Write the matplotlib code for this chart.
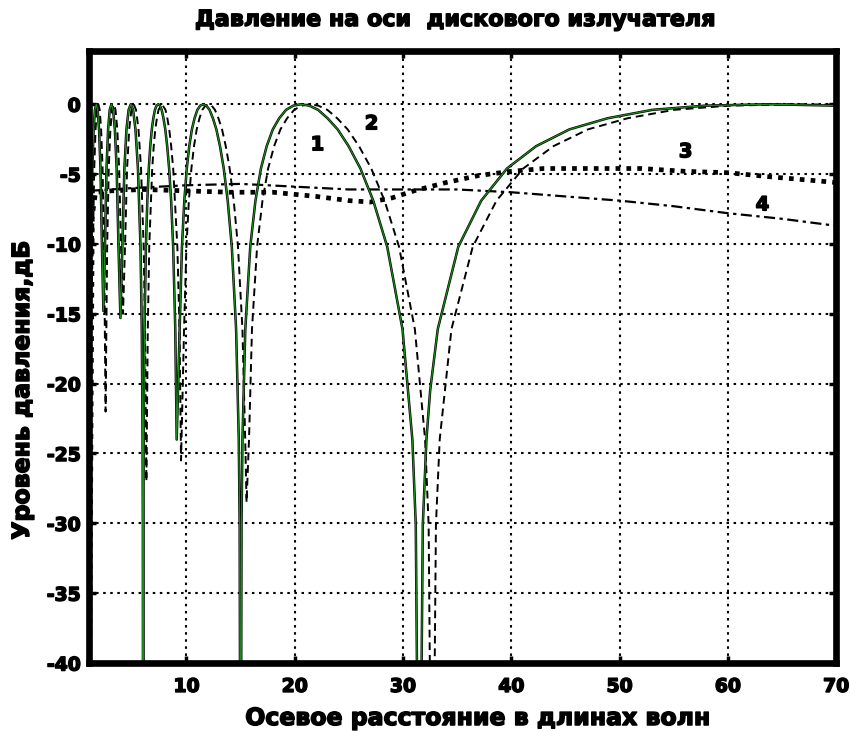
import matplotlib
matplotlib.use("Agg")
import matplotlib.pyplot as plt
import matplotlib.patheffects as pe

# curve 1 (green, exact on-axis pressure)
x1 = [1.0, 1.188, 1.306, 1.426, 1.548, 1.673, 1.800, 1.929, 2.061, 2.196,
      2.33, 2.474, 2.617, 2.764, 2.914, 3.068, 3.226, 3.388, 3.554, 3.725,
      3.90, 4.081, 4.267, 4.459, 4.657, 4.861, 5.073, 5.292, 5.519, 5.755,
      5.876, 5.950, 5.975, 6.0, 6.025, 6.050, 6.126, 6.255, 6.387, 6.521,
      6.658, 6.799, 6.942, 7.089, 7.239, 7.393, 7.550, 7.712, 7.877, 8.047,
      8.221, 8.4, 8.584, 8.773, 8.967, 9.10, 9.372, 9.584, 9.803, 10.029,
      10.261, 10.502, 10.750, 11.008, 11.274, 11.55, 11.836, 12.133, 12.442, 12.763,
      13.097, 13.445, 13.809, 14.188, 14.585, 14.832, 14.915, 15.0, 15.085, 15.172,
      15.435, 15.892, 16.372, 16.878, 17.411, 17.974, 18.569, 19.2, 19.870, 20.583,
      21.344, 22.157, 23.029, 23.965, 24.975, 26.067, 27.251, 28.541, 29.951, 30.863,
      31.178, 31.5, 31.828, 32.163, 32.505, 33.209, 35.106, 37.222, 39.6, 42.292,
      45.364, 48.906, 53.033, 57.907, 63.75, 70.0]
y1 = [-14.2, -10.2, -4.6, -1.8, -0.4, 0.0, -0.4, -1.8, -4.6, -10.2,
      -14.8, -10.2, -4.6, -1.8, -0.4, 0.0, -0.4, -1.8, -4.6, -10.2,
      -15.3, -10.2, -4.6, -1.8, -0.4, 0.0, -0.4, -1.8, -4.6, -10.2,
      -16.1, -24.0, -30.1, -60.0, -30.1, -24.0, -16.1, -10.2, -6.9, -4.6,
      -3.0, -1.8, -1.0, -0.4, -0.1, 0.0, -0.1, -0.4, -1.0, -1.8,
      -3.0, -4.6, -6.9, -10.2, -16.1, -24.0, -16.1, -10.2, -6.9, -4.6,
      -3.0, -1.8, -1.0, -0.4, -0.1, 0.0, -0.1, -0.4, -1.0, -1.8,
      -3.0, -4.6, -6.9, -10.2, -16.1, -24.0, -30.1, -60.0, -30.1, -24.0,
      -16.1, -10.2, -6.9, -4.6, -3.0, -1.8, -1.0, -0.4, -0.1, 0.0,
      -0.1, -0.4, -1.0, -1.8, -3.0, -4.6, -6.9, -10.2, -16.1, -24.0,
      -30.1, -60.0, -30.1, -24.0, -20.5, -16.1, -10.2, -6.9, -4.6, -3.0,
      -1.8, -1.0, -0.4, -0.1, 0.0, -0.1]

# curve 2 (dashed)
x2 = [1.0, 1.126, 1.243, 1.362, 1.482, 1.605, 1.730, 1.858, 1.988, 2.120,
      2.255, 2.393, 2.463, 2.533, 2.605, 2.677, 2.824, 2.975, 3.129, 3.286,
      3.448, 3.614, 3.785, 3.960, 4.14, 4.326, 4.517, 4.714, 4.917, 5.128,
      5.345, 5.571, 5.805, 6.048, 6.173, 6.30, 6.430, 6.563, 6.837, 6.978,
      7.123, 7.271, 7.422, 7.736, 8.065, 8.235, 8.411, 8.590, 8.775, 9.160,
      9.360, 9.50, 9.779, 9.998, 10.224, 10.457, 10.698, 10.946, 11.203, 11.469,
      11.745, 12.03, 12.326, 12.633, 12.953, 13.285, 13.631, 13.991, 14.367, 14.760,
      15.170, 15.426, 15.55, 15.778, 16.051, 16.524, 17.021, 17.544, 18.096, 18.679,
      19.296, 19.95, 20.644, 21.38, 22.172, 23.014, 23.918, 24.888, 25.935, 27.067,
      28.295, 29.632, 31.094, 32.039, 32.366, 32.7, 33.040, 33.388, 34.472, 36.439,
      38.634, 41.1, 43.892, 47.079, 50.752, 55.033, 60.089, 66.15, 70.0]
y2 = [-4.25, -10.2, -13.0, -10.2, -4.6, -1.8, -0.4, 0.0, -0.4, -1.8,
      -4.6, -10.2, -16.1, -22.0, -16.1, -10.2, -4.6, -1.8, -0.4, 0.0,
      -0.4, -1.8, -4.6, -10.2, -15.0, -10.2, -4.6, -1.8, -0.4, 0.0,
      -0.4, -1.8, -4.6, -10.2, -16.1, -27.0, -16.1, -10.2, -4.6, -3.0,
      -1.8, -1.0, -0.4, 0.0, -0.4, -1.0, -1.8, -3.0, -4.6, -10.2,
      -16.1, -25.5, -16.1, -10.2, -6.9, -4.6, -3.0, -1.8, -1.0, -0.4,
      -0.1, 0.0, -0.1, -0.4, -1.0, -1.8, -3.0, -4.6, -6.9, -10.2,
      -16.1, -24.0, -28.5, -24.0, -16.1, -10.2, -6.9, -4.6, -3.0, -1.8,
      -1.0, -0.4, -0.1, 0.0, -0.1, -0.4, -1.0, -1.8, -3.0, -4.6,
      -6.9, -10.2, -16.1, -24.0, -30.1, -60.0, -30.1, -24.0, -16.1, -10.2,
      -6.9, -4.6, -3.0, -1.8, -1.0, -0.4, -0.1, 0.0, -0.03]

# curve 3 (thick dotted)
x3 = [1.0, 1.3, 1.6, 3, 6, 10, 14, 18, 22, 25, 27, 29, 31, 34, 37, 40,
      43, 47, 52, 56, 60, 64, 67, 70]
y3 = [-48, -8.0, -6.3, -6.2, -6.1, -6.2, -6.3, -6.3, -6.6, -6.9, -7.0, -6.7,
      -6.2, -5.6, -5.1, -4.8, -4.6, -4.6, -4.6, -4.8, -4.9, -5.2, -5.4, -5.6]

# curve 4 (dash-dot)
x4 = [1, 5, 10, 15, 20, 25, 30, 35, 40, 45, 50, 55, 60, 65, 70]
y4 = [-6.2, -6.0, -5.8, -5.7, -5.9, -6.1, -6.1, -6.1, -6.3, -6.6, -6.9,
      -7.3, -7.8, -8.2, -8.7]

xticks = [10, 20, 30, 40, 50, 60, 70]
yticks = [0, -5, -10, -15, -20, -25, -30, -35, -40]

# curve numbers: (text, x, y)
curve_labels = [("1", 22.1, -2.9), ("2", 27.1, -1.4), ("3", 56.1, -3.4), ("4", 63.2, -7.2)]

assert len(x1) == len(y1) and len(x2) == len(y2)

plt.rcParams['font.family'] = ['DejaVu Sans']
plt.rcParams['font.weight'] = 'bold'

heavy = [pe.withStroke(linewidth=1.1, foreground='black')]

fig = plt.figure(figsize=(8.5, 7.31), dpi=100)
ax = fig.add_axes([0.1047, 0.093, 0.879, 0.837])

# curves
ax.plot(x4, y4, color='black', lw=1.6, linestyle=(0, (5, 2, 1.5, 2)))
ax.plot(x3, y3, color='black', lw=3.4, linestyle=(0, (1, 1.3)), dash_capstyle='butt')
ax.plot(x2, y2, color='black', lw=1.4, linestyle=(0, (4, 2.5)))
ax.plot(x1, y1, color='black', lw=1.8)
ax.plot(x1, y1, color='#1a8a1a', lw=0.9)

for t, xx, yy in curve_labels:
    ax.text(xx, yy, t, fontsize=14, fontweight='bold', ha='center', va='center',
            path_effects=heavy)

ax.set_xlim(1, 70)
ax.set_ylim(-40, 3.8)
ax.set_xticks(xticks)
ax.set_yticks(yticks)
ax.set_xticklabels([str(v) for v in xticks])
ax.set_yticklabels([str(v) for v in yticks])
ax.grid(True, color='black', lw=1.5, linestyle=(0, (1.2, 2.2)))

for s in ax.spines.values():
    s.set_linewidth(4.8)
ax.tick_params(direction='in', length=5, width=2.5, top=True, right=True,
               labelsize=13.5, pad=6)
ax.tick_params(axis='x', pad=10)
for lab in ax.get_xticklabels() + ax.get_yticklabels():
    lab.set_fontweight('bold')
    lab.set_path_effects(heavy)

fig.text(456 / 850, 1 - 20 / 731, "Давление на оси  дискового излучателя",
         fontsize=16, fontweight='bold', ha='center', va='center', path_effects=heavy)
fig.text(478 / 850, 1 - 718 / 731, "Осевое расстояние в длинах волн",
         fontsize=17, fontweight='bold', ha='center', va='center', path_effects=heavy)
fig.text(22 / 850, 1 - 390 / 731, "Уровень давления,дБ",
         fontsize=17, fontweight='bold', ha='center', va='center', rotation=90,
         path_effects=heavy)

fig.savefig("out.png", dpi=100, facecolor='white')
